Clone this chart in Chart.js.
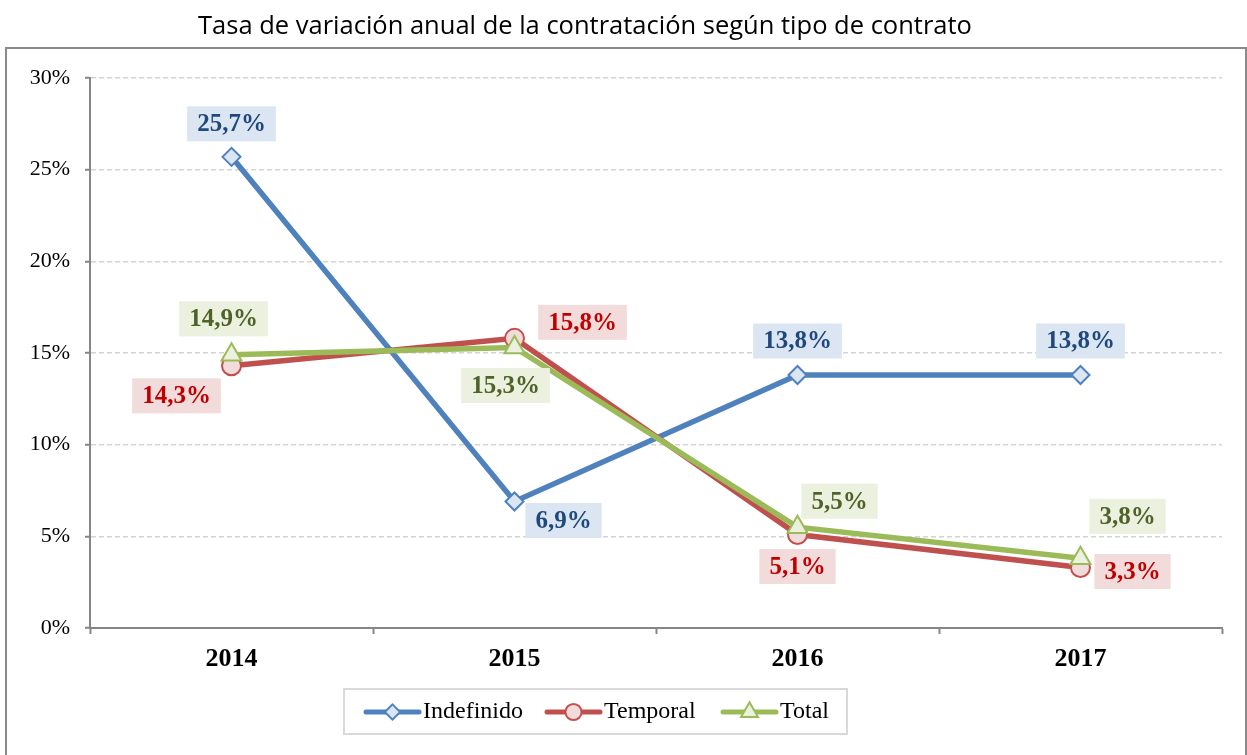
<!DOCTYPE html>
<html>
<head>
<meta charset="utf-8">
<script src="https://cdn.jsdelivr.net/npm/chart.js@4/dist/chart.umd.min.js"></script>
<style>
  html, body { margin:0; padding:0; background:#fff; }
  #wrap { position:relative; width:1247px; height:755px; }
</style>
</head>
<body>
<div id="wrap"><canvas id="chart" width="1247" height="755"></canvas></div>
<script>
// ===== DATOS =====
const years = ['2014', '2015', '2016', '2017'];
const indefinido = [25.7, 6.9, 13.8, 13.8];
const temporal = [14.3, 15.8, 5.1, 3.3];
const total = [14.9, 15.3, 5.5, 3.8];
const yTicks = [0, 5, 10, 15, 20, 25, 30];
const chartTitle = 'Tasa de variación anual de la contratación según tipo de contrato';

const SERIF = '"Liberation Serif", "DejaVu Serif", serif';
const fmt = v => v.toFixed(1).replace('.', ',') + '%';

// posicion de las etiquetas respecto al punto (dx, dy)
const labelPos = [
  [[0,-33],[49,19],[0,-34],[0,-34]],
  [[-55,30],[68,-16],[0,32],[52,4]],
  [[-8,-36],[-9,38],[42,-26],[47,-42]]
];
const labelStyle = [
  { bg:'#DCE6F2', color:'#1F497D' },
  { bg:'#F2DCDB', color:'#C00000' },
  { bg:'#EBF1DE', color:'#4F6228' }
];

// marco + titulo
const framePlugin = {
  id: 'frame',
  beforeDraw(chart) {
    const ctx = chart.ctx;
    ctx.save();
    ctx.fillStyle = '#fff';
    ctx.fillRect(0, 0, chart.width, chart.height);
    ctx.strokeStyle = '#8a8a8a';
    ctx.lineWidth = 2;
    ctx.strokeRect(6, 48, 1240, 720);
    ctx.fillStyle = '#000';
    ctx.font = '25.5px "Open Sans", "Liberation Sans", sans-serif';
    ctx.textAlign = 'center';
    ctx.textBaseline = 'middle';
    ctx.fillText(chartTitle, 585, 27);
    ctx.restore();
  }
};

// etiquetas de datos con fondo
const labelPlugin = {
  id: 'boxLabels',
  afterDatasetsDraw(chart) {
    const ctx = chart.ctx;
    ctx.save();
    ctx.font = 'bold 25px ' + SERIF;
    ctx.textAlign = 'center';
    ctx.textBaseline = 'middle';
    chart.data.datasets.forEach((ds, di) => {
      const meta = chart.getDatasetMeta(di);
      meta.data.forEach((pt, i) => {
        const txt = fmt(ds.data[i]);
        const [dx, dy] = labelPos[di][i];
        const cx = pt.x + dx, cy = pt.y + dy;
        const w = ctx.measureText(txt).width + 20, h = 35;
        ctx.fillStyle = labelStyle[di].bg;
        ctx.fillRect(cx - w/2, cy - h/2, w, h);
        ctx.fillStyle = labelStyle[di].color;
        ctx.fillText(txt, cx, cy + 1);
      });
    });
    ctx.restore();
  }
};

function drawMarker(ctx, style, x, y, r) {
  if (style === 'circle') {
    ctx.arc(x, y, r, 0, Math.PI * 2);
  } else if (style === 'rectRot') {
    ctx.moveTo(x, y - r); ctx.lineTo(x + r, y); ctx.lineTo(x, y + r); ctx.lineTo(x - r, y); ctx.closePath();
  } else {
    const s = r * Math.sqrt(3);
    ctx.moveTo(x, y - r); ctx.lineTo(x + s/2, y + r/2); ctx.lineTo(x - s/2, y + r/2); ctx.closePath();
  }
}

// leyenda con linea + marcador
const legendPlugin = {
  id: 'lineLegend',
  afterDraw(chart) {
    const ctx = chart.ctx;
    ctx.save();
    ctx.strokeStyle = '#d9d9d9';
    ctx.lineWidth = 2;
    ctx.strokeRect(344, 689, 503, 45);
    const starts = [366, 547, 723];
    const y = 712;
    ctx.font = '24px ' + SERIF;
    ctx.textBaseline = 'middle';
    chart.data.datasets.forEach((ds, di) => {
      const x0 = starts[di];
      ctx.strokeStyle = ds.borderColor;
      ctx.lineWidth = 5;
      ctx.lineCap = 'round';
      ctx.beginPath();
      ctx.moveTo(x0, y);
      ctx.lineTo(x0 + 53, y);
      ctx.stroke();
      ctx.strokeStyle = ds.pointBorderColor;
      ctx.fillStyle = ds.pointBackgroundColor;
      ctx.lineWidth = 2;
      ctx.beginPath();
      drawMarker(ctx, ds.pointStyle, x0 + 26.5, y, ds.pointRadius * 0.85);
      ctx.fill();
      ctx.stroke();
      ctx.fillStyle = '#000';
      ctx.textAlign = 'left';
      ctx.fillText(ds.label, x0 + 57, y);
    });
    ctx.restore();
  }
};

new Chart(document.getElementById('chart'), {
  type: 'line',
  data: {
    labels: years,
    datasets: [
      {
        label: 'Indefinido', data: indefinido, order: 3,
        borderColor: '#4F81BD', borderWidth: 5.5,
        pointStyle: 'rectRot', pointRadius: 9, pointBorderWidth: 2,
        pointBackgroundColor: '#DCE6F2', pointBorderColor: '#4F81BD'
      },
      {
        label: 'Temporal', data: temporal, order: 2,
        borderColor: '#C0504D', borderWidth: 5.5,
        pointStyle: 'circle', pointRadius: 9.5, pointBorderWidth: 2,
        pointBackgroundColor: '#F2DCDB', pointBorderColor: '#C0504D'
      },
      {
        label: 'Total', data: total, order: 1,
        borderColor: '#9BBB59', borderWidth: 5.5,
        pointStyle: 'triangle', pointRadius: 11.5, pointBorderWidth: 2,
        pointBackgroundColor: '#EBF1DE', pointBorderColor: '#9BBB59'
      }
    ]
  },
  options: {
    responsive: false,
    animation: false,
    layout: { padding: { left: 0, right: 25, top: 78, bottom: 77 } },
    plugins: {
      legend: { display: false },
      title: { display: false },
      tooltip: { enabled: false }
    },
    scales: {
      x: {
        offset: true,
        afterFit: s => { s.height = 50; },
        grid: { offset: true, drawOnChartArea: false, drawTicks: true, tickLength: 6, tickColor: '#868686', tickWidth: 2 },
        border: { color: '#868686', width: 2 },
        ticks: { color: '#000', padding: 10, font: { family: SERIF, size: 26, weight: 'bold' } }
      },
      y: {
        min: 0, max: 30,
        afterFit: s => { s.width = 90; },
        afterBuildTicks: s => { s.ticks = yTicks.map(v => ({ value: v })); },
        grid: { color: '#d4d4d4', lineWidth: 1.5, tickLength: 5, tickColor: '#868686', tickWidth: 2, tickBorderDash: [] },
        border: { color: '#868686', width: 2, dash: [5, 3] },
        ticks: { color: '#000', padding: 15, font: { family: SERIF, size: 22 }, callback: v => v + '%' }
      }
    }
  },
  plugins: [framePlugin, labelPlugin, legendPlugin]
});
</script>
</body>
</html>
